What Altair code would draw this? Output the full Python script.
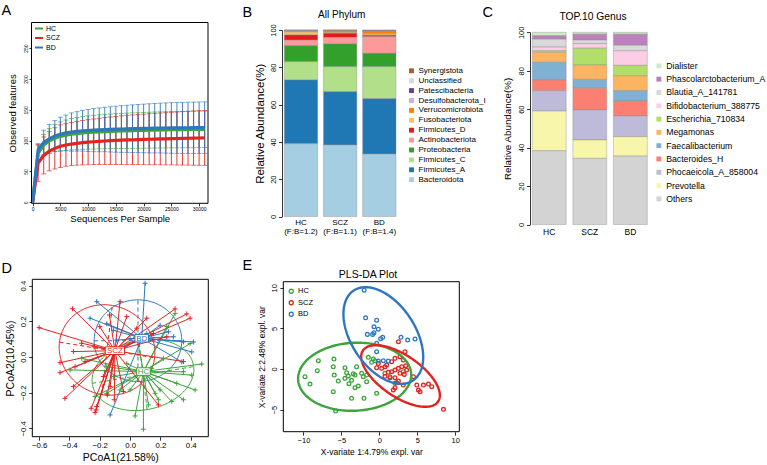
import altair as alt
import numpy as np
import pandas as pd

FONT = "Liberation Sans"
CW, CH = 767, 465

groups = ["HC", "SCZ", "BD"]
group_colors = ["#3ba53a", "#e3231f", "#2e77c0"]

# ---------------- A: rarefaction curves ----------------
depth = [0, 1000, 2000, 3000, 4000, 5000, 6000, 7000, 8000, 9000, 10000,
         11000, 12000, 13000, 14000, 15000, 16000, 17000, 18000, 19000, 20000,
         21000, 22000, 23000, 24000, 25000, 26000, 27000, 28000, 29000, 30000, 31000]
hc_mean = [0, 80, 93, 99.5, 104, 107, 109, 110.5, 111.5, 112.5, 113.2, 113.8, 114.3, 114.7, 115.1, 115.4,
           115.7, 116, 116.3, 116.5, 116.8, 117, 117.2, 117.4, 117.6, 117.8, 117.9, 118, 118.1, 118.2, 118.3, 118.4]
hc_sd = [0, 12, 17, 20, 22, 23.5, 24.5, 25.5, 26, 26.5, 27, 27.3, 27.6, 27.9, 28.1, 28.3,
         28.5, 28.7, 28.8, 28.9, 29, 29.1, 29.2, 29.3, 29.4, 29.4, 29.5, 29.5, 29.5, 29.6, 29.6, 29.6]
scz_mean = [0, 64, 76, 83, 87.5, 91, 93, 94.5, 95.7, 96.7, 97.5, 98.2, 98.8, 99.4, 99.9, 100.3,
            100.7, 101.1, 101.4, 101.7, 102, 102.3, 102.6, 102.8, 103, 103.3, 103.5, 103.7, 103.9, 104.1, 104.3, 104.5]
scz_sd = [0, 30, 30, 32, 33.5, 34.5, 34.5, 35, 35.5, 36, 36.5, 37, 37.5, 38, 38.5, 39,
          39.5, 40, 40.3, 40.6, 41, 41.3, 41.6, 42, 42.3, 42.6, 43, 43.3, 43.6, 44, 44.3, 44.5]
bd_mean = [0, 85, 97, 103, 107.5, 110.5, 112.5, 114, 115, 116, 116.5, 117, 117.5, 118, 118.3, 118.6,
           118.9, 119.2, 119.4, 119.6, 119.8, 120, 120.2, 120.4, 120.5, 120.6, 120.7, 120.8, 120.9, 121, 121.1, 121.2]
bd_sd = [0, 10, 20, 23, 25, 27.5, 29, 31, 32, 33, 34, 35, 35.5, 36, 36.7, 37.3,
         37.8, 38.2, 38.6, 39, 39.4, 39.8, 40.1, 40.4, 40.7, 41, 41.2, 41.4, 41.5, 41.6, 41.7, 41.8]
a_xticks = [0, 5000, 10000, 15000, 20000, 25000, 30000]
a_yticks = [0, 50, 100, 150, 200, 250]

# ---------------- B: phylum composition ----------------
phyla = ["Synergistota", "Unclassified", "Patescibacteria", "Desulfobacterota_I", "Verrucomicrobiota",
         "Fusobacteriota", "Firmicutes_D", "Actinobacteriota", "Proteobacteria", "Firmicutes_C",
         "Firmicutes_A", "Bacteroidota"]
phyla_colors = ["#b15928", "#d9d9d9", "#6a3d9a", "#cab2d6", "#ff7f00", "#fdbf6f", "#e31a1c",
                "#fb9a99", "#33a02c", "#b2df8a", "#1f78b4", "#a6cee3"]
phylum_hc = [0.1, 0.15, 0.1, 0.15, 0.5, 1.7, 2.7, 3.0, 8.6, 9.8, 34.2, 39.0]
phylum_scz = [0.1, 0.1, 0.1, 0.1, 1.0, 0.4, 2.2, 3.5, 12.2, 13.4, 28.5, 38.4]
phylum_bd = [0.2, 0.2, 0.2, 0.2, 1.2, 0.8, 0.8, 8.9, 7.2, 17.1, 29.7, 33.5]
fb_ratio = ["(F:B=1.2)", "(F:B=1.1)", "(F:B=1.4)"]

# ---------------- C: top 10 genera ----------------
genera = ["Dialister", "Phascolarctobacterium_A", "Blautia_A_141781", "Bifidobacterium_388775",
          "Escherichia_710834", "Megamonas", "Faecalibacterium", "Bacteroides_H",
          "Phocaeicola_A_858004", "Prevotella", "Others"]
genus_colors = ["#ccebc5", "#bc80bd", "#d9d9d9", "#fccde5", "#b3de69", "#fdb462", "#80b1d3",
                "#fb8072", "#bebada", "#f8f6aa", "#d3d3d3"]
genus_hc = [1.8, 1.8, 4.1, 1.9, 0.8, 5.2, 9.2, 5.6, 10.6, 20.6, 38.4]
genus_scz = [1.0, 3.0, 1.9, 2.4, 8.7, 7.5, 4.6, 11.3, 15.6, 9.6, 34.4]
genus_bd = [1.0, 5.8, 2.8, 7.6, 5.4, 7.8, 5.3, 7.8, 10.8, 10.1, 35.6]

# ---------------- D: PCoA ----------------
d_hc_x = [-0.396, -0.319, -0.231, -0.154, -0.066, 0.033, 0.088, 0.121, 0.187, 0.275, 0.352, 0.429, 0.473, 0.407,
          0.396, 0.297, 0.242, -0.022, -0.154, 0.143, 0.198, -0.11, 0.0, 0.352, 0.308, 0.22, 0.044, 0.165]
d_hc_y = [-0.073, -0.008, -0.222, -0.204, -0.185, -0.331, -0.405, -0.269, -0.24, -0.25, -0.24, -0.185, -0.04, -0.102,
          0.075, 0.244, 0.17, -0.037, -0.055, -0.064, -0.185, -0.11, -0.185, -0.083, -0.148, -0.008, 0.113, -0.204]
d_scz_x = [-0.60, -0.38, -0.066, -0.136, -0.20, -0.022, -0.238, -0.32, -0.374, -0.462, -0.462, -0.374, -0.43,
           -0.257, -0.224, -0.22, -0.15, -0.104, -0.044, 0.187, 0.297, 0.374, 0.396, 0.352, 0.242, 0.154,
           -0.363, -0.297, -0.176, -0.132, 0.044, 0.11, -0.231]
d_scz_y = [0.164, 0.27, 0.31, 0.235, 0.17, 0.226, 0.057, 0.077, 0.03, -0.032, -0.088, -0.166, -0.232,
           -0.288, -0.297, -0.278, -0.213, -0.24, -0.194, -0.269, 0.269, 0.241, 0.217, -0.026, 0.113, 0.131,
           -0.055, -0.026, -0.11, -0.166, 0.161, 0.217, -0.312]
d_bd_x = [-0.22, -0.264, 0.099, -0.132, 0.418, 0.407, 0.352, 0.341, 0.253, 0.286, 0.0, -0.11, -0.154, -0.088,
          0.198, -0.066, 0.11]
d_bd_y = [0.31, 0.217, 0.413, -0.325, 0.084, 0.028, 0.084, -0.028, 0.141, 0.113, 0.103, 0.149, 0.186, 0.094,
          0.177, 0.038, 0.131]
d_centroid_x = [0.088, -0.10, 0.077]
d_centroid_y = [-0.082, 0.035, 0.105]
d_ell_cx = [0.085, -0.152, 0.052]
d_ell_cy = [-0.101, 0.039, 0.091]
d_ell_a = [0.338, 0.317, 0.289]
d_ell_b = [0.196, 0.252, 0.229]
d_ell_angle = [8, -8, 0]
d_ticks = [-0.6, -0.4, -0.2, 0.0, 0.2, 0.4]
d_yticks = [-0.4, -0.2, 0.0, 0.2, 0.4]

# ---------------- E: PLS-DA ----------------
e_hc_x = [-9.8, -9.14, -8.04, -8.18, -5.98, -6.07, -5.94, -6.07, -5.76, -5.41, -4.53, -4.31, -4.09, -4.53, -4.0,
          -3.43, -3.21, -2.77, -3.65, -2.02, -2.99, -2.33, -2.11, -1.67, -0.35, -1.45, -0.79, -1.01, -0.57, -1.67,
          0.75, 1.41, 2.07, 3.17, -3.21, -3.65]
e_hc_y = [-0.94, -1.85, 1.02, -0.21, 1.23, 0.29, -0.74, -2.79, -5.17, -1.48, 0.16, -0.45, -0.86, -1.15, -1.8,
          -0.58, -2.3, -2.09, -3.6, -3.6, 0.29, -0.53, -0.94, -1.56, -2.99, 1.44, 1.23, 0.82, 1.02, -0.74,
          -0.53, -0.94, -1.76, -0.33, -0.74, -1.39]
e_scz_x = [2.52, -0.35, 0.31, 0.75, 0.97, 1.63, 2.07, 2.73, 3.17, 3.39, 1.19, 1.63, 2.07, 2.52, 2.73, 2.96, 3.48,
           1.41, 2.07, 2.29, 2.52, 3.3, 3.6, 0.75, 4.5, 4.94, 5.16, 5.38, 5.82, 6.48, 6.92, 3.17, 1.85, 2.07,
           8.46, -0.13]
e_scz_y = [3.36, 0.16, 0.08, 0.29, 0.49, 0.9, 1.31, 1.52, 1.11, 2.13, -0.41, -0.33, -0.12, 0.08, -0.53, 0.29, 0.41,
           -1.07, -1.07, -1.68, -1.48, -0.66, -0.12, -0.9, -0.94, -1.97, -2.58, -2.79, -1.97, -1.85, -2.17, -1.97,
           -2.58, -2.3, -4.96, 0.69]
e_bd_x = [-2.0, -1.8, -0.35, -0.7, -0.13, -0.7, -1.58, -0.88, 0.45, 0.18, -0.35, 2.86, 3.74, 4.71, -0.35, -0.13,
          0.53, 1.19]
e_bd_y = [9.7, 6.3, 6.0, 5.2, 4.9, 4.47, 4.26, 4.26, 3.9, 3.73, 3.16, 3.9, 3.57, 3.69, 2.13, 0.98, 1.02, 0.98]
e_ell_cx = [-3.25, 2.80, 0.53]
e_ell_cy = [-0.95, -0.86, 4.12]
e_ell_a = [7.46, 5.87, 6.78]
e_ell_b = [4.18, 2.6, 4.13]
e_ell_angle = [2.5, -31.5, -52.7]
e_xticks = [-10, -5, 0, 5, 10]
e_yticks = [-5, 0, 5, 10]

# ======================= helpers =======================
def axis(orient, pos, **kw):
    off = -pos if orient == "left" else pos - CH
    base = dict(orient=orient, offset=off, grid=False, labelFont=FONT, titleFont=FONT,
                labelColor="black", titleColor="black", tickColor="black", domainColor="black",
                titleFontWeight="normal", labelFlush=False, labelOverlap=False, tickWidth=0.8,
                domainWidth=0.8)
    if orient == "left":
        base.update(labelAngle=-90, labelAlign="center", labelBaseline="bottom")
    base.update(kw)
    return alt.Axis(**base)


def ellipse_frame(names, cx, cy, a, b, ang):
    rows = []
    t = np.linspace(0, 2 * np.pi, 181)
    for g, x0, y0, aa, bb, an in zip(names, cx, cy, a, b, ang):
        th = np.deg2rad(an)
        xs = x0 + aa * np.cos(t) * np.cos(th) - bb * np.sin(t) * np.sin(th)
        ys = y0 + aa * np.cos(t) * np.sin(th) + bb * np.sin(t) * np.cos(th)
        for i, (x, y) in enumerate(zip(xs, ys)):
            rows.append({"group": g, "i": i, "x": x, "y": y})
    return pd.DataFrame(rows)


def box_frame(xd, yd):
    return pd.DataFrame([{"x0": xd[0], "x1": xd[1], "y0": yd[0], "y1": yd[1]}])


def gcol(legend=None):
    return alt.Color("group:N", scale=alt.Scale(domain=groups, range=group_colors), sort=groups, legend=legend)

leaves = []

# ======================= Panel A =======================
xA_dom, yA_dom = [-200, 31600], [-1.6, 291.6]
def xA(f, ax=None):
    return alt.X(f, scale=alt.Scale(domain=xA_dom, range=[31.5, 208], nice=False, zero=False), axis=ax)
def yA(f, ax=None):
    return alt.Y(f, scale=alt.Scale(domain=yA_dom, range=[203.3, 22.5], nice=False, zero=False), axis=ax)

rows = []
for g, m, s in zip(groups, [hc_mean, scz_mean, bd_mean], [hc_sd, scz_sd, bd_sd]):
    for d, mm, ss in zip(depth, m, s):
        rows.append({"group": g, "depth": d, "mean": mm, "lo": mm - ss, "hi": mm + ss})
dfA = pd.DataFrame(rows)
dfA_err = dfA[dfA["depth"] > 0]

axA_x = axis("bottom", 203.3, values=a_xticks, format="d", labelFontSize=5, tickSize=2.5, labelPadding=1,
             domain=False, title="Sequences Per Sample", titleFontSize=9.5, titlePadding=2)
axA_y = axis("left", 31.5, values=a_yticks, format="d", labelFontSize=5, tickSize=2.5, labelPadding=1,
             domain=False, title="Observed features", titleFontSize=9.5, titlePadding=6)

leaves.append(alt.Chart(dfA_err).mark_rule(strokeWidth=0.9).encode(
    x=xA("depth:Q", axA_x), y=yA("lo:Q", axA_y), y2="hi:Q", color=gcol()))
leaves.append(alt.Chart(dfA_err).mark_tick(orient="horizontal", size=5, thickness=0.9).encode(
    x=xA("depth:Q"), y=yA("lo:Q"), color=gcol()))
leaves.append(alt.Chart(dfA_err).mark_tick(orient="horizontal", size=5, thickness=0.9).encode(
    x=xA("depth:Q"), y=yA("hi:Q"), color=gcol()))
leaves.append(alt.Chart(dfA).mark_line(strokeWidth=3.2).encode(
    x=xA("depth:Q"), y=yA("mean:Q"),
    color=gcol(alt.Legend(orient="none", legendX=34, legendY=23.5, title=None, labelFontSize=7,
                          labelFont=FONT, symbolType="stroke", symbolSize=64, symbolStrokeWidth=2,
                          rowPadding=0.5, padding=0, labelOffset=2))))
leaves.append(alt.Chart(box_frame(xA_dom, yA_dom)).mark_rect(fillOpacity=0, stroke="black", strokeWidth=1).encode(
    x=xA("x0:Q"), x2="x1:Q", y=yA("y0:Q"), y2="y1:Q"))

# ======================= stacked bar helper =======================
def stack_df(names, per_group):
    rows = []
    for g, vals in zip(groups, per_group):
        for k, (n, v) in enumerate(zip(names, vals)):
            rows.append({"cat": g, "taxon": n, "value": v, "rank": len(names) - 1 - k})
    return pd.DataFrame(rows)

# ======================= Panel B =======================
dfB = stack_df(phyla, [phylum_hc, phylum_scz, phylum_bd])
fb_expr = " : ".join(
    [f"datum.label == '{g}' ? ['{g}', '{r}']" for g, r in zip(groups[:-1], fb_ratio[:-1])]
) + f" : ['{groups[-1]}', '{fb_ratio[-1]}']"
axB_x = axis("bottom", 216.5, domain=False, ticks=False, labelFontSize=8, labelPadding=2, labelAngle=0,
             labelExpr=fb_expr, labelLineHeight=9, title=None)
axB_y = axis("left", 282, values=[0, 20, 40, 60, 80, 100], labelFontSize=7.5, tickSize=3.5, labelPadding=1.5,
             title="Relative Abundance(%)", titleFontSize=11.5, titlePadding=4)
leaves.append(alt.Chart(dfB).mark_bar(stroke="#8a8a8a", strokeWidth=0.4).encode(
    x=alt.X("cat:N", scale=alt.Scale(domain=groups, range=[284.3, 396], paddingInner=0.148, paddingOuter=0),
            sort=groups, axis=axB_x),
    y=alt.Y("value:Q", stack="zero", scale=alt.Scale(domain=[0, 100], range=[216.5, 30], nice=False, zero=False),
            axis=axB_y),
    color=alt.Color("taxon:N", scale=alt.Scale(domain=phyla, range=phyla_colors), sort=phyla,
                    legend=alt.Legend(orient="none", legendX=407.5, legendY=66.8, title=None, labelFontSize=8,
                                      labelFont=FONT, symbolType="square", symbolSize=24, symbolStrokeWidth=0,
                                      rowPadding=1.9, padding=0, labelOffset=3)),
    order=alt.Order("rank:Q", sort="ascending"),
))

# ======================= Panel C =======================
dfC = stack_df(genera, [genus_hc, genus_scz, genus_bd])
axC_x = axis("bottom", 224.5, domain=False, ticks=False, labelFontSize=8.5, labelPadding=3, labelAngle=0,
             title=None)
axC_y = axis("left", 530, values=[0, 20, 40, 60, 80, 100], labelFontSize=7.5, tickSize=3.5, labelPadding=1.5,
             title="Relative Abundance(%)", titleFontSize=9.8, titlePadding=5)
leaves.append(alt.Chart(dfC).mark_bar(stroke="#8a8a8a", strokeWidth=0.4).encode(
    x=alt.X("cat:N", scale=alt.Scale(domain=groups, range=[532.3, 647.3], paddingInner=0.165, paddingOuter=0),
            sort=groups, axis=axC_x),
    y=alt.Y("value:Q", stack="zero", scale=alt.Scale(domain=[0, 100], range=[224.5, 32.3], nice=False, zero=False),
            axis=axC_y),
    color=alt.Color("taxon:N", scale=alt.Scale(domain=genera, range=genus_colors), sort=genera,
                    legend=alt.Legend(orient="none", legendX=654.5, legendY=61.5, title=None, labelFontSize=8.7,
                                      labelFont=FONT, symbolType="square", symbolSize=24, symbolStrokeWidth=0,
                                      rowPadding=3.3, padding=0, labelOffset=3)),
    order=alt.Order("rank:Q", sort="ascending"),
))

# ======================= Panel D =======================
xD_dom, yD_dom = [-0.645, 0.516], [-0.447, 0.435]
def xD(f, ax=None):
    return alt.X(f, scale=alt.Scale(domain=xD_dom, range=[32.3, 208.3], nice=False, zero=False), axis=ax)
def yD(f, ax=None):
    return alt.Y(f, scale=alt.Scale(domain=yD_dom, range=[436.7, 279.3], nice=False, zero=False), axis=ax)

rows = []
for g, xs, ys, cx, cy in zip(groups, [d_hc_x, d_scz_x, d_bd_x], [d_hc_y, d_scz_y, d_bd_y],
                             d_centroid_x, d_centroid_y):
    for x, y in zip(xs, ys):
        rows.append({"group": g, "x": x, "y": y, "cx": cx, "cy": cy})
dfD = pd.DataFrame(rows)
draw_order = {"HC": 0, "BD": 1, "SCZ": 2}
dfD["o"] = dfD["group"].map(draw_order)
dfD = dfD.sort_values("o", kind="stable")

axD_x = axis("bottom", 436.7, values=d_ticks, format=".1f", labelFontSize=7.8, tickSize=3.5, labelPadding=1.5,
             domain=False, title="PCoA1(21.58%)", titleFontSize=10.5, titlePadding=3)
axD_y = axis("left", 32.3, values=d_yticks, format=".1f", labelFontSize=7.8, tickSize=3.5, labelPadding=1.5,
             domain=False, title="PCoA2(10.45%)", titleFontSize=10.5, titlePadding=4)

dfD_ell = ellipse_frame(groups, d_ell_cx, d_ell_cy, d_ell_a, d_ell_b, d_ell_angle)
leaves.append(alt.Chart(dfD_ell).mark_line(strokeWidth=1).encode(
    x=xD("x:Q", axD_x), y=yD("y:Q", axD_y), color=gcol(), order="i:Q", detail="group:N"))
ax_rows = []
for g, x0, y0, aa, bb, an in zip(groups, d_ell_cx, d_ell_cy, d_ell_a, d_ell_b, d_ell_angle):
    th = np.deg2rad(an)
    ax_rows.append({"group": g, "x": x0 - aa * np.cos(th), "y": y0 - aa * np.sin(th),
                    "x2": x0 + aa * np.cos(th), "y2": y0 + aa * np.sin(th)})
    ax_rows.append({"group": g, "x": x0 + bb * np.sin(th), "y": y0 - bb * np.cos(th),
                    "x2": x0 - bb * np.sin(th), "y2": y0 + bb * np.cos(th)})
leaves.append(alt.Chart(pd.DataFrame(ax_rows)).mark_rule(strokeWidth=1, strokeDash=[4, 3]).encode(
    x=xD("x:Q"), y=yD("y:Q"), x2="x2:Q", y2="y2:Q", color=gcol()))
leaves.append(alt.Chart(dfD).mark_rule(strokeWidth=1).encode(
    x=xD("x:Q"), y=yD("y:Q"), x2="cx:Q", y2="cy:Q", color=gcol()))
leaves.append(alt.Chart(dfD).mark_point(shape="M-1,0L1,0M0,-1L0,1", filled=False, size=25, strokeWidth=1,
                                        opacity=1).encode(x=xD("x:Q"), y=yD("y:Q"), color=gcol()))
for g, cx, cy in zip(groups, d_centroid_x, d_centroid_y):
    dlab = pd.DataFrame([{"group": g, "x": cx, "y": cy}])
    if len(g) == 3:
        shape, size = "M-1,-0.4L1,-0.4L1,0.4L-1,0.4Z", 370
    else:
        shape, size = "M-1,-0.56L1,-0.56L1,0.56L-1,0.56Z", 185
    leaves.append(alt.Chart(dlab).mark_point(shape=shape, size=size, filled=True, fill="white",
                                             strokeWidth=1, opacity=1, fillOpacity=1).encode(
        x=xD("x:Q"), y=yD("y:Q"),
        stroke=alt.Stroke("group:N", scale=alt.Scale(domain=groups, range=group_colors), legend=None)))
    leaves.append(alt.Chart(dlab).mark_text(fontSize=8, font=FONT, baseline="middle", dy=0.5).encode(
        x=xD("x:Q"), y=yD("y:Q"), text="group:N", color=gcol()))
leaves.append(alt.Chart(box_frame(xD_dom, yD_dom)).mark_rect(fillOpacity=0, stroke="black", strokeWidth=1).encode(
    x=xD("x0:Q"), x2="x1:Q", y=yD("y0:Q"), y2="y1:Q"))

# ======================= Panel E =======================
xE_dom, yE_dom = [-12.66, 10.55], [-7.71, 10.74]
def xE(f, ax=None):
    return alt.X(f, scale=alt.Scale(domain=xE_dom, range=[283.3, 459.3], nice=False, zero=False), axis=ax)
def yE(f, ax=None):
    return alt.Y(f, scale=alt.Scale(domain=yE_dom, range=[431.7, 281.7], nice=False, zero=False), axis=ax)

rows = []
for g, xs, ys in zip(groups, [e_hc_x, e_scz_x, e_bd_x], [e_hc_y, e_scz_y, e_bd_y]):
    for x, y in zip(xs, ys):
        rows.append({"group": g, "x": x, "y": y})
dfE = pd.DataFrame(rows)
axE_x = axis("bottom", 431.7, values=e_xticks, format="d", labelFontSize=7.5, tickSize=3.5, labelPadding=1.5,
             domain=False, title="X-variate 1:4.79% expl. var", titleFontSize=8.5, titlePadding=3)
axE_y = axis("left", 283.3, values=e_yticks, format="d", labelFontSize=7.5, tickSize=3.5, labelPadding=1.5,
             domain=False, title="X-variate 2:2.48% expl. var", titleFontSize=8.5, titlePadding=4)
dfE_ell = ellipse_frame(groups, e_ell_cx, e_ell_cy, e_ell_a, e_ell_b, e_ell_angle)
leaves.append(alt.Chart(dfE).mark_point(filled=False, size=14, strokeWidth=1.3, opacity=1).encode(
    x=xE("x:Q", axE_x), y=yE("y:Q", axE_y),
    color=gcol(alt.Legend(orient="none", legendX=287.5, legendY=287.5, title=None, labelFontSize=7.5,
                          labelFont=FONT, symbolType="circle", symbolSize=16, symbolStrokeWidth=1.3,
                          rowPadding=1.5, padding=0, labelOffset=3))))
leaves.append(alt.Chart(dfE_ell).mark_line(strokeWidth=2.4).encode(
    x=xE("x:Q"), y=yE("y:Q"), color=gcol(), order="i:Q", detail="group:N"))
leaves.append(alt.Chart(box_frame(xE_dom, yE_dom)).mark_rect(fillOpacity=0, stroke="black", strokeWidth=1).encode(
    x=xE("x0:Q"), x2="x1:Q", y=yE("y0:Q"), y2="y1:Q"))

# ======================= annotations (panel letters / titles) =======================
one = alt.Data(values=[{}])
for txt, x, y in [("A", 1.5, 3.5), ("B", 242.5, 5.5), ("C", 482.5, 5.5), ("D", 1.5, 261.5), ("E", 242.5, 258.5)]:
    leaves.append(alt.Chart(one).mark_text(text=txt, fontSize=14.5, font=FONT, align="left", baseline="top")
                  .encode(x=alt.value(x), y=alt.value(y)))
for txt, x, y, fs in [("All Phylum", 341.7, 15, 10), ("TOP.10 Genus", 593, 16.7, 10.3), ("PLS-DA Plot", 368, 275, 10.5)]:
    leaves.append(alt.Chart(one).mark_text(text=txt, fontSize=fs, font=FONT, align="center", baseline="middle")
                  .encode(x=alt.value(x), y=alt.value(y)))

chart = alt.layer(*leaves).resolve_scale(
    x="independent", y="independent", color="independent", stroke="independent"
).properties(
    width=CW, height=CH, padding=0, autosize=alt.AutoSizeParams(type="none"), background="white"
).configure_view(stroke=None).configure_axis(labelFont=FONT, titleFont=FONT).configure_legend(
    labelFont=FONT)

chart.save("out.html", embed_options={"renderer": "svg", "actions": False})
